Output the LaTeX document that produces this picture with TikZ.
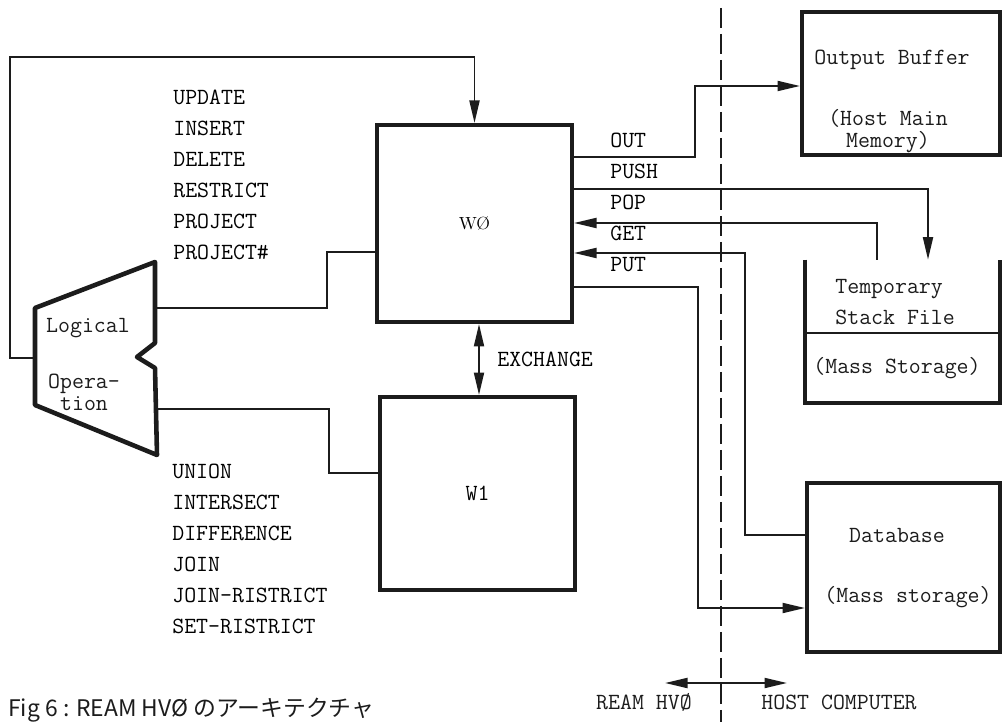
\documentclass[tikz,border=0pt]{standalone}
\usepackage{fontspec}
\newfontfamily\jpfont{Noto Sans CJK JP}
\usetikzlibrary{arrows.meta}
\definecolor{ink}{RGB}{28,28,28}

\begin{document}
\begin{tikzpicture}[
  x=0.02cm, y=-0.02cm,
  font=\ttfamily\fontsize{13.2}{12.6}\selectfont,
  block/.style={draw=ink, line width=2.3pt, inner sep=0pt},
  wall/.style={draw=ink, line width=2.3pt},
  opshape/.style={draw=ink, line width=2.6pt, line join=round},
  line/.style={draw=ink, line width=1.1pt},
  arrow/.style={-{Triangle[length=4.5mm,width=2mm]}, draw=ink, line width=1.1pt},
  both/.style={{Triangle[length=4.5mm,width=2mm]}-{Triangle[length=4.5mm,width=2mm]}, draw=ink, line width=1.1pt},
  divide/.style={draw=ink, line width=1.2pt, dash pattern=on 0.4cm off 0.12cm},
  lbl/.style={inner sep=0pt, anchor=base west},
  txt/.style={inner sep=0pt, text=ink}
]
\useasboundingbox (0,0) rectangle (1003,722);

\node[block, minimum width=3.9cm, minimum height=3.94cm] (w0) at (474.5,223.5) {\rmfamily\fontsize{10}{12}\selectfont W\O\hspace{0.64cm}};
\node[block, minimum width=3.9cm, minimum height=3.86cm] (w1) at (477.5,493.5) {W1\hspace{0.8cm}};
\node[block, minimum width=3.96cm, minimum height=2.86cm] (ob) at (901,83.5) {};
\node[inner sep=0pt, minimum width=3.9cm, minimum height=2.86cm] (ts) at (902.5,331.5) {};
\node[block, minimum width=3.86cm, minimum height=3.38cm] (db) at (903.5,567.5) {};

\node[txt] (obt) at (892,60) {Output Buffer};
\node[txt, align=center] (obm) at (888,131) {(Host Main\\Memory)};
\node[txt, align=left, anchor=west] (tst) at (835,302.5) {Temporary\\[5pt]Stack File};
\node[txt] (tsm) at (897,368) {(Mass Storage)};
\node[txt] (dbt) at (897,535) {Database};
\node[txt] (dbm) at (908,597) {(Mass storage)};

\draw[wall] (ts.north west) |- (ts.south east) -- (ts.north east);
\draw[line width=1.7pt, draw=ink] (ts.west |- 0,333) -- (ts.east |- 0,333);

\draw[opshape] (35,308) coordinate (lo-tl) -- (155,262) coordinate (lo-tr)
  -- (155,343) -- (137,357) -- (155,368) -- (157,455) coordinate (lo-br)
  -- (35,405) coordinate (lo-bl) -- cycle;
\coordinate (lo-w) at (35,358);
\coordinate (lo-e1) at (155,308);
\coordinate (lo-e2) at (156,409);
\node[txt] (lot) at (88,328) {Logical};
\node[txt, align=center] (lob) at (84,392) {Opera-\\[0pt]tion};

\foreach \op [count=\i] in {UPDATE,INSERT,DELETE,RESTRICT,PROJECT,PROJECT\#}
  \node[lbl] (u\i) at (173,{74+31*\i}) {\op};
\foreach \op [count=\i] in {UNION,INTERSECT,DIFFERENCE,JOIN,JOIN-RISTRICT,SET-RISTRICT}
  \node[lbl] (l\i) at (172,{447+31*\i}) {\op};
\foreach \op [count=\i] in {OUT,PUSH,POP,GET,PUT}
  \node[lbl] (s\i) at (610,{117+31*\i}) {\op};

\draw[arrow] (lo-w) -| (10,57) -| (w0.north);
\draw[line] (lo-e1) -| (327,252) -- (w0.west |- 0,252);
\draw[line] (lo-e2) -| (329,473) -- (w1.west |- 0,473);
\draw[both] (w0.south -| 479,0) -- (w1.north -| 479,0);
\node[lbl, anchor=west] (xch) at (497,359) {EXCHANGE};

\draw[arrow] (w0.east |- 0,157) -| (695,86) -- (ob.west |- 0,86);
\draw[arrow] (w0.east |- 0,189) -| (ts.north -| 928,0);
\draw[arrow] (ts.north -| 877,0) |- (w0.east |- 0,223);
\draw[arrow] (db.west |- 0,535) -| (745,253) -- (w0.east |- 0,253);
\draw[arrow] (w0.east |- 0,287) -| (698,608) -- (db.west |- 0,608);

\coordinate (sep-top) at (721,8);
\coordinate (sep-bot) at (721,722);
\draw[divide] (sep-top) -- (sep-bot);

\coordinate (side-l) at (665,683);
\coordinate (side-r) at (787,683);
\draw[both] (side-l) -- (side-r);
\node[txt] (ream) at (644,702) {REAM HV\O};
\node[txt] (host) at (839,702) {HOST COMPUTER};

\node[txt, anchor=west] (cap) at (8,710) {\jpfont\fontsize{13}{15}\selectfont Fig 6 : REAM HVØ のアーキテクチャ};
\end{tikzpicture}
\end{document}
